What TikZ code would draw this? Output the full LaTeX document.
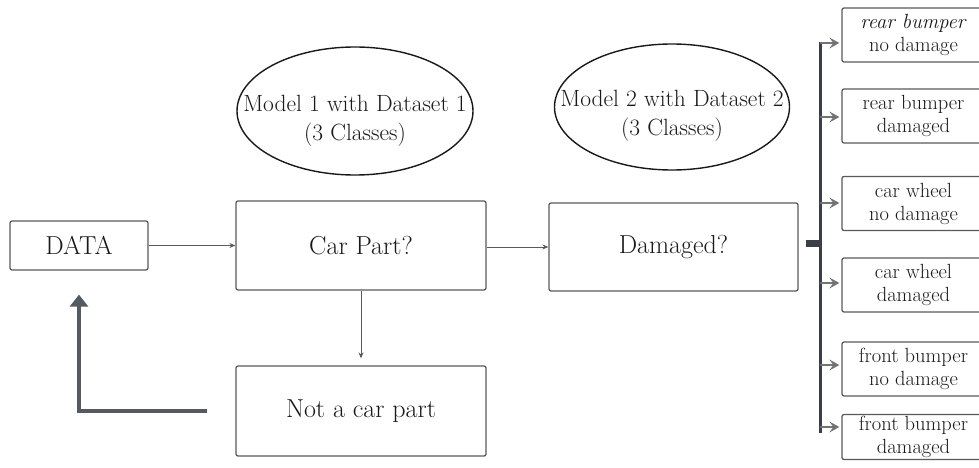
\documentclass[tikz,border=0pt]{standalone}
\usepackage{fontspec}
\usetikzlibrary{arrows.meta,shapes.geometric}

\definecolor{ink}{RGB}{25,25,25}
\definecolor{edge}{RGB}{90,90,90}
\definecolor{flowgray}{RGB}{90,90,90}
\definecolor{fbgray}{RGB}{85,90,96}
\definecolor{barcol}{RGB}{58,62,70}
\definecolor{leafgray}{RGB}{115,115,115}

\tikzset{
  boxshape/.style={draw=edge, line width=1.3pt, rounded corners=2pt, fill=white,
    inner sep=0pt, text=ink, align=center},
  mainbox/.style={boxshape, font=\fontsize{26}{30}\selectfont},
  modelshape/.style={ellipse, draw=ink, line width=1.4pt, inner sep=0pt},
  modeltext/.style={text=ink, align=center, inner sep=0pt, font=\fontsize{23.5}{29}\selectfont},
  flow/.style={draw=flowgray, line width=0.9pt, -{Stealth[length=6pt,width=5pt]}},
  feedback/.style={draw=fbgray, line width=3.5pt, line join=miter,
    -{Triangle[length=12pt,width=18pt]}},
  branch/.style={draw=barcol, line width=3pt},
  stub/.style={draw=barcol, line width=7pt},
  leaf/.style={draw=leafgray, line width=1.5pt, shorten >=2pt,
    -{Stealth[length=10pt,width=11pt,inset=4pt]}},
  leafbox/.style={boxshape, minimum width=143pt, minimum height=54pt,
    font=\fontsize{20.5}{23}\selectfont},
}

\begin{document}
\begin{tikzpicture}[x=1pt,y=-1pt]
\useasboundingbox (0,0) rectangle (979,468);
\clip (0,0) rectangle (979,468);

% main flow
\node[mainbox, minimum width=138pt, minimum height=49pt] (data) at (79,245.5)
  {\addfontfeature{LetterSpace=6}DATA};
\node[mainbox, minimum width=250pt, minimum height=89pt] (part) at (361,245.5) {Car Part?};
\node[mainbox, minimum width=249pt, minimum height=88pt] (dam) at (673.5,247) {Damaged?};
\node[mainbox, minimum width=250pt, minimum height=90pt] (notpart) at (361,411) {Not a car part};

% models
\node[modelshape, minimum width=236pt, minimum height=128pt] (m1) at (355,111) {};
\node[modeltext] at ([yshift=-10pt]m1.center) {Model 1 with Dataset 1\\(3 Classes)};
\node[modelshape, minimum width=235pt, minimum height=126pt] (m2) at (672,107) {};
\node[modeltext] at ([yshift=-9pt]m2.center) {Model 2 with Dataset 2\\(3 Classes)};

\draw[flow] (data.east) -- (part.west);
\draw[flow] (part.east |- dam.west) -- (dam.west);
\draw[flow, shorten >=7pt] (part.south) -- (notpart.north);
\draw[feedback] ([xshift=-28pt]notpart.west) -| ([yshift=-24pt]data.south);

% outcome classes
\node[leafbox] (r1) at (913.5,35) {\textit{rear bumper}\\no damage};
\node[leafbox] (r2) at (913.5,116) {rear bumper\\damaged};
\node[leafbox] (r3) at (913.5,203.5) {car wheel\\no damage};
\node[leafbox] (r4) at (913.5,285) {car wheel\\damaged};
\node[leafbox] (r5) at (913.5,369) {front bumper\\no damage};
\node[leafbox, minimum height=45pt] (r6) at (913.5,437) {front bumper\\damaged};

\coordinate (bartop) at (820,42);
\coordinate (barbot) at (820,433);
\coordinate (stubL) at (806,243);
\draw[branch] (bartop) -- (barbot);
\draw[stub] (stubL) -- (stubL -| bartop);

\foreach \r/\yy in {r1/43, r2/117, r3/203, r4/283, r5/365, r6/427}{
  \coordinate (b-\r) at (820,\yy);
  \draw[leaf] (b-\r) -- (b-\r -| \r.west);
}
\end{tikzpicture}
\end{document}
